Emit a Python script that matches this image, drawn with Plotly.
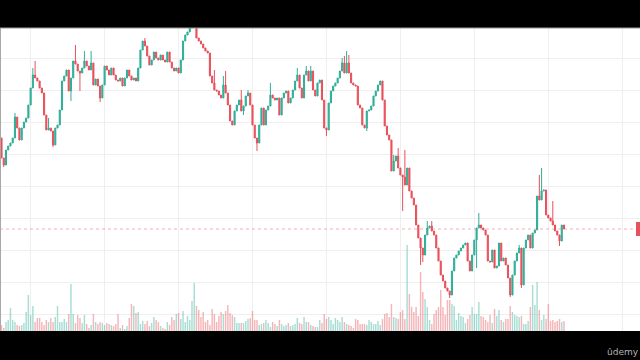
import plotly.graph_objects as go

# ---- data (price in arbitrary units) ----
open_first = 262

close_a = [242, 235, 250, 254, 257, 262, 283, 272, 260, 272, 278, 282, 295, 312, 325, 322, 319, 312, 307, 285,
           270, 272, 269, 255, 272, 275, 290, 319, 324, 330, 309, 322, 339, 336, 329, 327, 332, 339, 334, 330,
           337, 315]
wick_a = {1: (None, 233), 6: (287, None), 14: (332, None), 15: (339, None), 21: (282, None), 23: (None, 253),
          31: (None, 299), 33: (355, None), 35: (None, 309), 37: (349, None), 40: (349, None)}
vol_a = [6, 3, 9, 11, 23, 11, 9, 6, 5, 6, 8, 19, 36, 16, 25, 9, 13, 13, 9, 6, 11, 9, 13, 9, 14, 25, 9, 9, 12, 9,
         17, 47, 17, 8, 16, 13, 8, 16, 7, 3, 6, 17]

close_b = [321, 314, 302, 315, 334, 330, 325, 332, 325, 320, 319, 322, 314, 322, 330, 324, 320, 322, 319, 332,
           350, 359, 354, 344, 335, 340, 348, 342, 340, 345, 340, 338, 348, 338, 332, 329, 332, 327, 340, 359,
           365, 368, 372, 376, 382]
wick_b = {2: (None, 298), 22: (362, None), 44: (392, None)}
vol_b = [9, 7, 9, 8, 6, 8, 7, 6, 5, 7, 17, 3, 6, 2, 5, 13, 27, 25, 18, 19, 7, 10, 7, 10, 5, 8, 14, 11, 9, 5,
         3, 2, 9, 6, 14, 11, 17, 18, 12, 20, 9, 15, 11, 30, 48]

close_c = [362, 359, 356, 352, 349, 347, 324, 317, 310, 309, 305, 302, 315, 307, 295, 279, 275, 289, 295, 300,
           289, 294, 304, 307, 295, 275, 262, 257, 275, 292, 275, 290, 294, 305, 302, 300, 302, 285, 302, 307,
           309, 297]
wick_c = {8: (330, None), 12: (324, None), 13: (329, None), 20: (310, None), 21: (None, 285), 23: (310, None),
          27: (None, 249), 33: (317, None)}
vol_c = [25, 21, 14, 19, 9, 11, 6, 22, 17, 9, 15, 19, 17, 20, 26, 18, 16, 14, 8, 8, 8, 8, 10, 12, 13, 20, 11, 11,
         6, 7, 8, 11, 8, 4, 9, 7, 5, 11, 7, 5, 6, 8]

close_d = [302, 310, 319, 325, 312, 302, 325, 329, 319, 329, 310, 304, 317, 320, 300, 272, 270, 297, 309, 314,
           317, 322, 329, 337, 327, 337, 327, 317, 315, 314, 295, 292, 275, 272, 289, 290, 294, 304, 309, 315,
           319, 300]
wick_d = {3: (332, None), 7: (334, None), 9: (334, None), 16: (None, 264), 23: (342, None), 24: (344, None),
          25: (349, None), 26: (345, None), 34: (None, 269)}
vol_d = [5, 6, 7, 13, 8, 7, 14, 9, 9, 6, 5, 4, 4, 11, 8, 17, 12, 14, 11, 7, 13, 11, 9, 14, 9, 7, 6, 5, 3, 12,
         11, 7, 7, 7, 6, 11, 9, 7, 7, 10, 6, 12]

close_e = [274, 265, 260, 229, 239, 244, 232, 225, 223, 215, 232, 209, 202, 195, 175, 162, 152, 145, 165, 172,
           174, 169, 165, 152, 139, 125, 119, 112, 109, 105, 129, 142, 145, 149, 152, 155, 157, 139, 129, 145,
           160]
wick_e = {4: (245, None), 6: (252, None), 8: (None, 189), 9: (250, None), 16: (None, 135), 17: (None, 138),
          19: (179, None), 21: (179, None), 29: (None, 102)}
vol_e = [17, 18, 14, 27, 14, 13, 12, 19, 21, 12, 86, 37, 24, 19, 24, 15, 59, 39, 32, 24, 11, 7, 17, 21, 24, 41,
         24, 16, 31, 31, 27, 25, 11, 18, 15, 14, 8, 12, 16, 24, 17]

close_f = [172, 175, 172, 170, 165, 139, 138, 150, 132, 134, 157, 139, 142, 135, 122, 105, 125, 139, 147, 152,
           115, 152, 160, 165, 152, 167, 170, 204, 200, 209, 210, 185, 182, 179, 175, 169, 165, 159, 175, 171]
wick_f = {0: (None, 132), 1: (187, None), 15: (None, 103), 19: (155, None), 20: (None, 112), 28: (225, None),
          29: (232, None), 34: (199, None), 37: (None, 154)}
vol_f = [17, 29, 15, 14, 11, 9, 16, 8, 22, 15, 21, 11, 9, 12, 12, 25, 19, 16, 15, 14, 15, 7, 7, 10, 24, 46, 26,
         49, 21, 11, 16, 12, 27, 10, 11, 9, 10, 12, 9, 10]

segments = [(close_a, wick_a, vol_a), (close_b, wick_b, vol_b), (close_c, wick_c, vol_c),
            (close_d, wick_d, vol_d), (close_e, wick_e, vol_e), (close_f, wick_f, vol_f)]

opens, highs, lows, closes, vols = [], [], [], [], []
prev = open_first
for cl, wk, vl in segments:
    for i, c in enumerate(cl):
        o = prev
        h, l = max(o, c), min(o, c)
        if i in wk:
            wh, wl = wk[i]
            if wh is not None:
                h = max(h, wh)
            if wl is not None:
                l = min(l, wl)
        opens.append(o); highs.append(h); lows.append(l); closes.append(c)
        prev = c
    vols.extend(vl)

n = len(closes)
xs = list(range(n))

UP = "#2fae98"
DOWN = "#e8505b"
vol_colors = ["rgba(47,174,152,0.42)" if c >= o else "rgba(232,80,91,0.42)" for o, c in zip(opens, closes)]

# ---- layout helpers (pixel geometry of the frame) ----
W, H = 640, 360
TOP, BOT = 28, 29
first_px, last_px = 1.5, 564.0
step = (last_px - first_px) / (n - 1)
x_range = [-first_px / step, (W - first_px) / step]
grid_px = [30 + 74 * k for k in range(9)]
x_grid = [(p - first_px) / step for p in grid_px]
price_range = [69, 372]
y_grid = [86 + 32 * k for k in range(9)]

fig = go.Figure()
fig.add_trace(go.Bar(x=xs, y=vols, marker=dict(color=vol_colors, line=dict(width=0)),
                     yaxis="y2", showlegend=False, hoverinfo="skip"))
fig.add_trace(go.Candlestick(x=xs, open=opens, high=highs, low=lows, close=closes,
                             increasing=dict(line=dict(color=UP, width=1), fillcolor=UP),
                             decreasing=dict(line=dict(color=DOWN, width=1), fillcolor=DOWN),
                             showlegend=False, whiskerwidth=0))

last = closes[-1]
shapes = [
    dict(type="line", xref="paper", yref="y", x0=0, x1=1, y0=last, y1=last,
         line=dict(color="rgba(232,80,91,0.45)", width=1, dash="dot")),
    dict(type="rect", xref="paper", yref="y", x0=636 / W, x1=1, y0=last - 7, y1=last + 7,
         fillcolor=DOWN, line=dict(width=0)),
    dict(type="line", xref="paper", yref="paper", x0=0, x1=0, y0=0, y1=1,
         line=dict(color="#a8a8a8", width=2)),
    dict(type="line", xref="paper", yref="paper", x0=0, x1=1, y0=1, y1=1,
         line=dict(color="#9a9a9a", width=1)),
]

fig.update_layout(
    width=W, height=H,
    margin=dict(l=0, r=0, t=TOP, b=BOT, pad=0),
    paper_bgcolor="#000000",
    plot_bgcolor="#ffffff",
    bargap=0.35,
    showlegend=False,
    shapes=shapes,
    xaxis=dict(range=x_range, tickvals=x_grid, showticklabels=False, showgrid=True,
               gridcolor="#efefef", zeroline=False, showline=False, ticks="",
               rangeslider=dict(visible=False), fixedrange=True),
    yaxis=dict(range=price_range, tickvals=y_grid, showticklabels=False, showgrid=True,
               gridcolor="#efefef", zeroline=False, showline=False, ticks="", fixedrange=True),
    yaxis2=dict(range=[0, H - TOP - BOT], overlaying="y", visible=False, fixedrange=True),
    annotations=[dict(text="ûdemy", xref="paper", yref="paper", x=623 / W, y=(H - BOT - 352) / (H - TOP - BOT),
                      showarrow=False, font=dict(family="DejaVu Sans", size=9, color="#b5b5b5"),
                      xanchor="center", yanchor="middle")],
)

fig.write_html("out.html")
